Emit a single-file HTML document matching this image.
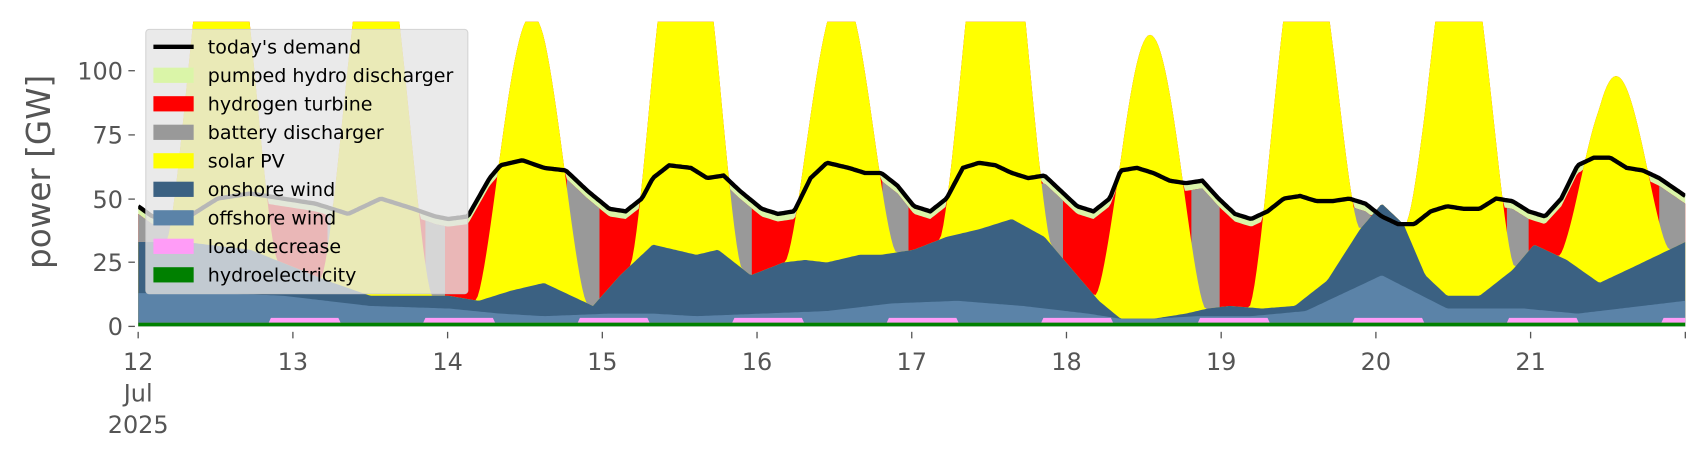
<!DOCTYPE html>
<html><head><meta charset="utf-8"><style>
body{margin:0;background:#fff;}
svg{display:block;font-family:"DejaVu Sans","Liberation Sans",sans-serif;}
</style></head><body>
<svg id="s" width="1706" height="460" viewBox="0 0 1568 422.8" preserveAspectRatio="none" xmlns="http://www.w3.org/2000/svg">
<defs><clipPath id="c"><rect x="127" y="20" width="1422" height="281"/></clipPath></defs>
<g id="plot" clip-path="url(#c)"></g>
<g fill="#555" font-size="22" text-anchor="end">
<text x="113" y="73">100</text><text x="113" y="132">75</text><text x="113" y="191">50</text><text x="113" y="249">25</text><text x="113" y="308">0</text>
</g>
<g stroke="#555" stroke-width="1.2">
<line x1="118" x2="124" y1="65" y2="65"/><line x1="118" x2="124" y1="124" y2="124"/><line x1="118" x2="124" y1="183" y2="183"/><line x1="118" x2="124" y1="241" y2="241"/><line x1="118" x2="124" y1="300" y2="300"/>
</g>
<g id="xt"></g>
<text transform="translate(46,158) rotate(-90)" fill="#555" font-size="30" text-anchor="middle">power [GW]</text>
<g id="leg"></g>
</svg>
<script>
var X0=127,DW=142.2;
function Y(g){return 300-2.35*g;}
function interp(pts,x){for(var i=0;i<pts.length-1;i++){if(x<=pts[i+1][0]){var a=pts[i],b=pts[i+1];return a[1]+(b[1]-a[1])*(x-a[0])/(b[0]-a[0]);}}return pts[pts.length-1][1];}
var dem=[[127,47],[140,43],[170,42],[200,50],[230,52],[260,50],[290,48],[320,44],[350,50],[380,46],[400,43],[412,42],[430,43],[450,58],[460,63],[480,65],[500,62],[520,61],[540,53],[560,46],[575,45],[590,50],[600,58],[615,63],[635,62],[650,58],[665,59],[680,53],[700,46],[715,44],[730,45],[745,58],[760,64],[780,62],[795,60],[810,60],[825,55],[840,47],[855,45],[870,50],[885,62],[900,64],[915,63],[930,60],[945,58],[960,59],[975,53],[990,47],[1005,45],[1020,50],[1030,61],[1045,62],[1060,60],[1075,57],[1090,56],[1105,57],[1120,50],[1135,44],[1150,42],[1165,45],[1180,50],[1195,51],[1210,49],[1225,49],[1240,50],[1255,48],[1270,43],[1285,40],[1300,40],[1315,45],[1330,47],[1345,46],[1360,46],[1375,50],[1390,49],[1405,45],[1420,43],[1435,50],[1450,63],[1465,66],[1480,66],[1495,62],[1510,61],[1525,58],[1549,51]];
var on=[[127,33],[170,33],[230,30],[300,18],[340,12],[412,12],[440,10],[470,14],[500,17],[520,13],[545,8],[570,20],[600,32],[640,28],[660,30],[690,20],[720,25],[740,26],[760,25],[790,28],[810,28],[840,30],[870,35],[900,38],[930,42],[960,35],[990,20],[1010,10],[1030,3],[1060,3],[1090,5],[1110,7],[1130,8],[1160,7],[1190,8],[1220,18],[1250,38],[1270,48],[1290,40],[1310,20],[1330,12],[1360,12],[1390,22],[1410,32],[1440,26],[1470,17],[1500,23],[1549,33]];
var off=[[127,13],[200,13],[260,12],[300,10],[340,8],[412,7],[460,5],[500,4],[560,5],[600,5],[640,4],[700,5],[760,6],[820,9],[880,10],[940,8],[1000,5],[1030,3],[1060,3],[1100,4],[1150,4],[1200,6],[1270,20],[1330,7],[1400,7],[1450,5],[1549,10]];
var peaks=[150,150,106,150,105,150,111,150,150,78];
function solar(x){var t=(x-X0)/DW,d=Math.floor(t),f=t-d;if(d>9)d=9;var P=peaks[d];var u=Math.abs(f-0.54);if(u>=0.36)return 0;var c=Math.cos(Math.PI*u/0.72);return P*Math.pow(c,1.5);}
function pink(x){var t=(x-X0)/DW,d=Math.round(t),f=t-d;if(d<1)return 0;return (f>-0.15&&f<0.3)?1.8:0;}
var gray=[[127,160],[300,330],[390,410],[520,552],[668,692],[810,835],[955,978],[1095,1122],[1240,1262],[1385,1405],[1525,1549]];
function inGray(x){for(var i=0;i<gray.length;i++)if(x>=gray[i][0]&&x<=gray[i][1])return true;return false;}
var xs=[];for(var x=127;x<=1549;x+=2)xs.push(x);
function area(top,bot,col){var p='M';xs.forEach(function(x,i){p+=(i?'L':'')+x+','+Y(top(x)).toFixed(1);});for(var i=xs.length-1;i>=0;i--)p+='L'+xs[i]+','+Y(bot(xs[i])).toFixed(1);return '<path d="'+p+'Z" fill="'+col+'"/>';}
var hy=function(x){return 1.5;};
var ld=function(x){return 1.5+pink(x);};
var of=function(x){return Math.max(ld(x),interp(off,x));};
var onw=function(x){return Math.max(of(x),interp(on,x));};
var so=function(x){return onw(x)+solar(x);};
var d=function(x){return interp(dem,x);};
var h='';
h+=area(function(x){return Math.max(so(x),d(x));},function(){return 0;},'#daf5a8');
h+=area(function(x){return Math.max(so(x),d(x)-3);},function(){return 0;},'#ff0000');
var gp='';var run=[];
xs.forEach(function(x){if(inGray(x))run.push(x);else if(run.length){gp+=seg(run);run=[];}});if(run.length)gp+=seg(run);
function seg(r){var p='M';r.forEach(function(x,i){p+=(i?'L':'')+x+','+Y(d(x)-3).toFixed(1);});for(var i=r.length-1;i>=0;i--)p+='L'+r[i]+','+Y(0);return '<path d="'+p+'Z" fill="#999"/>';}
h+=gp;
h+=area(so,function(){return 0;},'#ffff00');
h+=area(onw,function(){return 0;},'#3b6182');
h+=area(of,function(){return 0;},'#5b83a8');
h+=area(ld,function(){return 0;},'#ff9cf7');
h+=area(hy,function(){return 0;},'#008000');
var lp='M';xs.forEach(function(x,i){lp+=(i?'L':'')+x+','+Y(d(x)).toFixed(1);});
h+='<path d="'+lp+'" fill="none" stroke="#000" stroke-width="4" stroke-linejoin="round"/>';
document.getElementById('plot').innerHTML=h;
var xt='';var lab=['12','13','14','15','16','17','18','19','20','21'];
for(var i=0;i<11;i++){var x=X0+i*DW;if(x>1550)x=1549;xt+='<line x1="'+x+'" x2="'+x+'" y1="305" y2="311" stroke="#555" stroke-width="1.2"/>';if(i<10)xt+='<text x="'+x+'" y="340" fill="#555" font-size="22" text-anchor="middle">'+lab[i]+'</text>';}
xt+='<text x="127" y="369" fill="#555" font-size="22" text-anchor="middle">Jul</text><text x="127" y="398" fill="#555" font-size="22" text-anchor="middle">2025</text>';
document.getElementById('xt').innerHTML=xt;
var L=[['today\'s demand','line'],['pumped hydro discharger','#daf5a8'],['hydrogen turbine','#ff0000'],['battery discharger','#999'],['solar PV','#ffff00'],['onshore wind','#3b6182'],['offshore wind','#5b83a8'],['load decrease','#ff9cf7'],['hydroelectricity','#008000']];
var g='<rect x="134" y="27" width="296" height="243" rx="3" fill="#e5e5e5" fill-opacity="0.8" stroke="#ccc" stroke-opacity="0.8"/>';
L.forEach(function(l,i){var y=43+i*26.2;if(l[1]=='line')g+='<line x1="141" x2="178" y1="'+y+'" y2="'+y+'" stroke="#000" stroke-width="4"/>';else g+='<rect x="141" y="'+(y-7)+'" width="37" height="14" fill="'+l[1]+'"/>';g+='<text x="191" y="'+(y+6)+'" font-size="17.5" fill="#000">'+l[0]+'</text>';});
document.getElementById('leg').innerHTML=g;
</script>
</body></html>
